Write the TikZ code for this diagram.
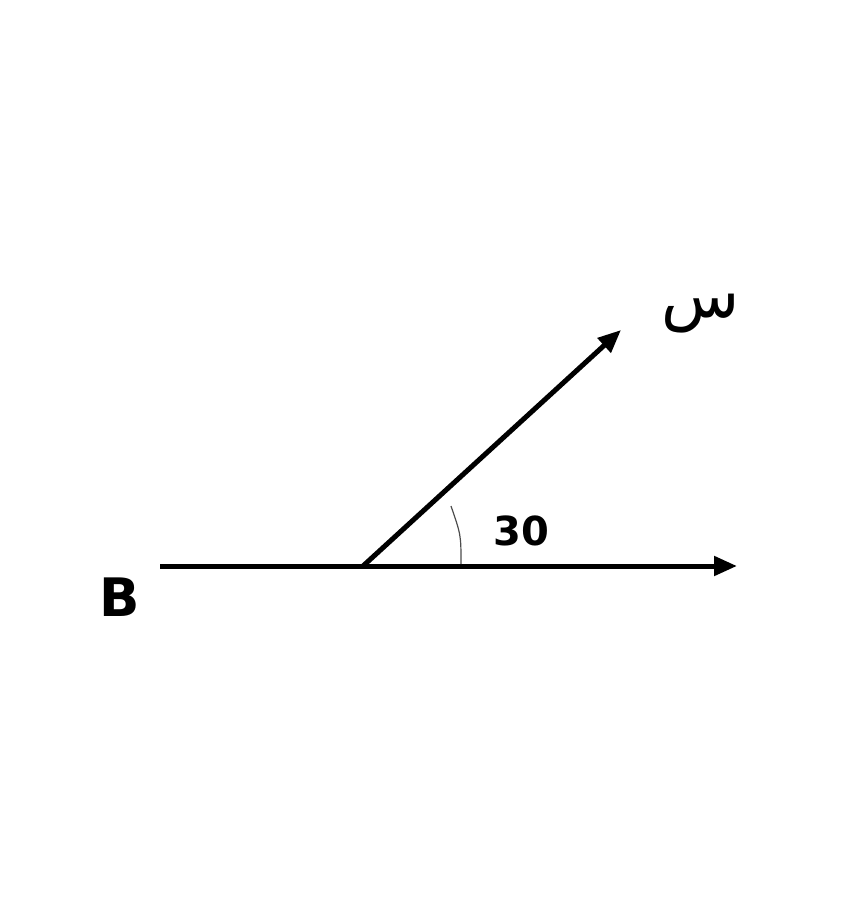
\documentclass[tikz,border=0pt]{standalone}
\usepackage{fontspec}
\setmainfont{DejaVu Sans}
\newfontfamily\arabicfont[Script=Arabic]{DejaVu Sans}
\TeXXeTstate=1
\usetikzlibrary{arrows.meta}
\tikzset{
  ray/.style={line width=5pt, -{Triangle[length=23pt,width=19pt]}},
  lbl/.style={inner sep=0pt, font=\bfseries},
  anglemark/.style={line width=1.2pt, draw=black!70}
}
\begin{document}
\begin{tikzpicture}[x=1pt,y=-1pt]
\useasboundingbox (0,0) rectangle (850,900);
\coordinate (S) at (160,566);
\coordinate (O) at (363,566);
\coordinate (E) at (737,566);
\coordinate (R) at (621,330);
\coordinate (A1) at (461,564);
\coordinate (A2) at (451,506);
\draw[ray, -] (S) -- (O);
\draw[ray] (O) -- (E);
\draw[ray] (O) -- (R);
\draw[anglemark] (A1) .. controls (461,535) .. (A2);
\node[lbl, font=\fontsize{53}{53}\selectfont\bfseries] (B) at (120,597) {B};
\node[lbl, font=\fontsize{40}{40}\selectfont\bfseries] (ang) at (521,531) {30};
\node[lbl, font=\fontsize{64}{64}\selectfont] (sin) at (701,314) {\arabicfont\beginR س\endR};
\end{tikzpicture}
\end{document}
